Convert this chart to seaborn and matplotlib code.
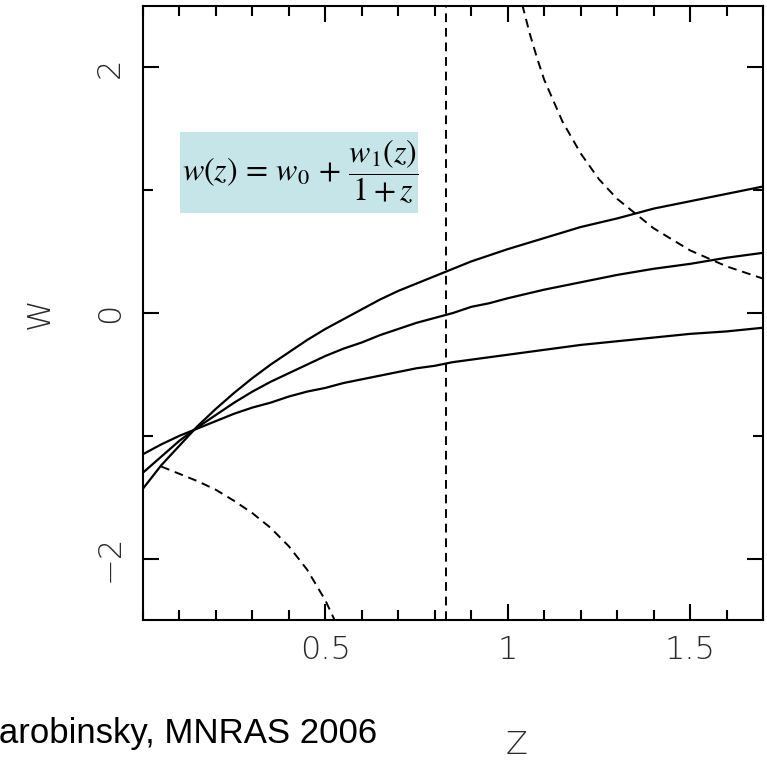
import numpy as np
import pandas as pd
import matplotlib
matplotlib.use("Agg")
import matplotlib.pyplot as plt
from matplotlib.patches import Rectangle
from matplotlib.ticker import MultipleLocator, FixedLocator
import seaborn as sns

# Redshift grid for the three reconstructed w(z) curves
z_fit = [0.0, 0.05, 0.1, 0.15, 0.2, 0.25, 0.3, 0.35, 0.4, 0.45, 0.5, 0.55, 0.6, 0.65,
         0.7, 0.75, 0.8, 0.85, 0.9, 0.95, 1.0, 1.1, 1.2, 1.3, 1.4, 1.5, 1.6, 1.7]
w_steep = [-1.43, -1.24, -1.08, -0.92, -0.78, -0.65, -0.53, -0.42, -0.32, -0.22, -0.13, -0.05,
           0.03, 0.11, 0.18, 0.24, 0.30, 0.36, 0.42, 0.47, 0.52, 0.61, 0.70, 0.77, 0.85, 0.91,
           0.97, 1.03]
w_mid = [-1.30, -1.17, -1.04, -0.93, -0.83, -0.73, -0.64, -0.56, -0.49, -0.42, -0.35, -0.29,
         -0.24, -0.18, -0.13, -0.08, -0.04, 0.00, 0.05, 0.08, 0.12, 0.19, 0.25, 0.31, 0.36,
         0.40, 0.45, 0.49]
w_flat = [-1.15, -1.07, -1.00, -0.94, -0.88, -0.82, -0.77, -0.73, -0.68, -0.64, -0.61, -0.57,
          -0.54, -0.51, -0.48, -0.45, -0.43, -0.40, -0.38, -0.36, -0.34, -0.30, -0.26, -0.23,
          -0.20, -0.17, -0.15, -0.12]

# Dashed boundary branches
z_upper = [1.04, 1.06, 1.08, 1.10, 1.15, 1.20, 1.25, 1.30, 1.40, 1.50, 1.60, 1.70]
w_upper = [2.51, 2.28, 2.08, 1.90, 1.56, 1.30, 1.09, 0.93, 0.69, 0.51, 0.38, 0.28]
z_lower = [0.05, 0.10, 0.15, 0.20, 0.25, 0.30, 0.35, 0.40, 0.45, 0.50, 0.53]
w_lower = [-1.25, -1.31, -1.37, -1.44, -1.53, -1.63, -1.75, -1.90, -2.09, -2.34, -2.53]

# Vertical dashed line position
z_vline = 0.83

x_ticks = [0.5, 1.0, 1.5]
x_ticklabels = ["0.5", "1", "1.5"]
y_ticks = [-2, 0, 2]
y_ticklabels = ["\u22122", "0", "2"]

sns.set_theme(style="ticks")
plt.rcParams["font.family"] = ["DejaVu Sans"]
plt.rcParams["mathtext.fontset"] = "stix"

label_color = "#2a2a2a"

fig = plt.figure(figsize=(7.67, 7.71), dpi=100)
ax = fig.add_axes([143 / 767, 1 - 620 / 771, 620 / 767, 614 / 771])

solid = pd.concat([
    pd.DataFrame({"z": z_fit, "w": w_steep, "curve": "a"}),
    pd.DataFrame({"z": z_fit, "w": w_mid, "curve": "b"}),
    pd.DataFrame({"z": z_fit, "w": w_flat, "curve": "c"}),
])
sns.lineplot(data=solid, x="z", y="w", units="curve", estimator=None, sort=False,
             color="black", lw=1.6, ax=ax)

dash_kw = dict(color="black", lw=1.4, ax=ax, estimator=None, sort=False)
l1 = sns.lineplot(x=z_upper, y=w_upper, **dash_kw).lines[-1]
l1.set_dashes([4.5, 3])
l2 = sns.lineplot(x=z_lower, y=w_lower, **dash_kw).lines[-1]
l2.set_dashes([4.5, 3])
ax.axvline(z_vline, color="black", lw=1.4, dashes=[4.5, 3])

ax.set_xlim(0, 1.7)
ax.set_ylim(-2.5, 2.5)

ax.xaxis.set_major_locator(FixedLocator(x_ticks))
ax.set_xticklabels(x_ticklabels)
ax.xaxis.set_minor_locator(MultipleLocator(0.1))
ax.yaxis.set_major_locator(FixedLocator(y_ticks))
ax.set_yticklabels(y_ticklabels, rotation=90, va="center")
ax.yaxis.set_minor_locator(MultipleLocator(1))

for side in ax.spines.values():
    side.set_linewidth(1.5)
    side.set_color("black")
ax.tick_params(which="both", direction="in", top=True, right=True, width=1.5, color="black")
ax.tick_params(which="major", length=11.5)
ax.tick_params(which="minor", length=7)
ax.tick_params(axis="x", which="major", pad=11, labelsize=23, labelcolor=label_color)
ax.tick_params(axis="y", which="major", pad=13, labelsize=23, labelcolor=label_color)
for lab in ax.get_xticklabels() + ax.get_yticklabels():
    lab.set_fontweight("light")

ax.set_xlabel("Z", fontsize=23, color=label_color, fontweight="light")
ax.set_ylabel("W", fontsize=23, color=label_color, fontweight="light")
ax.xaxis.set_label_coords((517 - 143) / 620, (620 - 745) / 614)
ax.xaxis.label.set_va("center")
ax.yaxis.set_label_coords((40 - 143) / 620, 0.5)
ax.yaxis.label.set_va("center")
ax.grid(False)

# Formula panel
fig.patches.append(Rectangle((180 / 767, 1 - 213 / 771), 238 / 767, 81 / 771,
                             transform=fig.transFigure, facecolor="#c5e5e8",
                             edgecolor="none", zorder=3))
fig.text(300 / 767, 1 - 172 / 771, r"$w(z)\,=\,w_0\,+\,\dfrac{w_1(z)}{1+z}$",
         ha="center", va="center", fontsize=23, color="black", zorder=4)

# Citation along the bottom edge
fig.text(377 / 767, 1 - 743 / 771, "Starobinsky, MNRAS 2006", ha="right",
         va="baseline", fontsize=25, family=["Liberation Sans"], color="black")

fig.savefig("out.png", dpi=100)
